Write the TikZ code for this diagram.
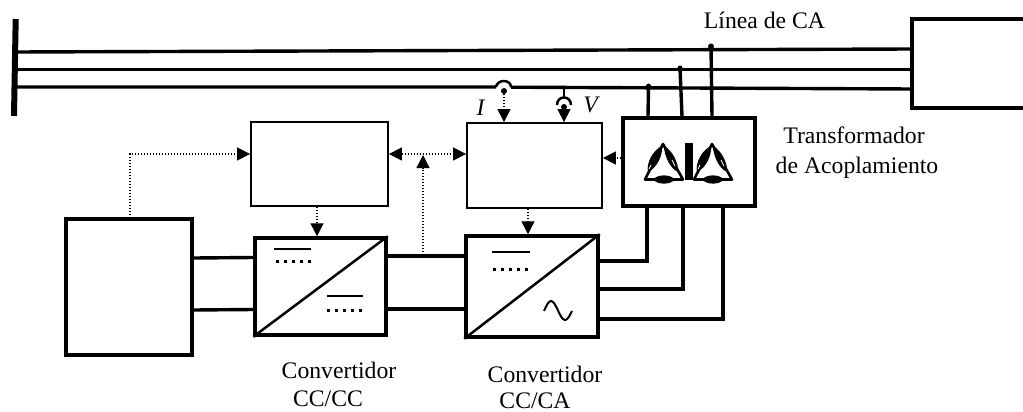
\documentclass[tikz,border=0pt]{standalone}
\usepackage{fontspec}
\setmainfont{Liberation Serif}
\usetikzlibrary{arrows.meta}
\begin{document}
\begin{tikzpicture}[x=1pt,y=-1pt,
  thinbox/.style={draw,line width=1.8pt,minimum width=#1,inner sep=0pt},
  thickbox/.style={draw,line width=3.5pt,minimum width=#1,inner sep=0pt},
  wire/.style={line width=3.4pt},
  signal/.style={line width=1.3pt,dash pattern=on 1.3pt off 1.7pt,-{Triangle[length=13pt,width=13pt]}},
  signalboth/.style={line width=1.3pt,dash pattern=on 1.3pt off 1.7pt,{Triangle[length=13pt,width=13pt]}-{Triangle[length=13pt,width=13pt]}},
  lbl/.style={anchor=base,inner sep=0pt,font=\fontsize{23.7}{28}\selectfont},
  bardash/.style={line width=3pt,dash pattern=on 3pt off 5pt}]
\useasboundingbox (0,0) rectangle (1023,412);
\def\LENSA{(-1,146) .. controls (0,155) and (-6,168) .. (-15,172) .. controls (-17,163) and (-10,150) .. (-1,146) -- cycle};
% AC line
\draw[line width=6pt] (15.7,19)--(14,116);
\coordinate (busA) at (15,52); \coordinate (busB) at (15,69.7); \coordinate (busC) at (15,87);
\coordinate (loadA) at (912,49); \coordinate (loadB) at (912,69.7); \coordinate (loadC) at (912,89);
\draw[wire] (busA)--(loadA);
\draw[wire] (busB)--(loadB);
\coordinate (gapL) at (496,87); \coordinate (gapR) at (511,87.2);
\draw[wire] (busC)--(gapL) (gapR)--(loadC);
\draw[line width=4pt] (1023,19)--(912,19)--(912,108)--(1023,108);
\node[lbl] (lblLine) at (764.5,29) {L\'{\i}nea de CA};
% blocks
\node[thinbox=137pt,minimum height=84pt] (ctrlA) at (319.5,164) {};
\node[thinbox=135pt,minimum height=85pt] (ctrlB) at (534.5,165.5) {};
\node[thickbox=132pt,minimum height=88pt] (xfmr) at (689,162) {};
\node[thickbox=126pt,minimum height=136pt] (source) at (129,287) {};
\node[thickbox=131pt,minimum height=97pt] (convA) at (320.5,286.5) {};
\node[thickbox=132pt,minimum height=101pt] (convB) at (532,286.5) {};
\draw[line width=2.5pt] (convA.south west)--(convA.north east);
\draw[line width=2.5pt] (convB.south west)--(convB.north east);
% converter symbols
\draw[line width=2pt] (274,249)--(311,249) (327,296)--(363,296) (492,252)--(530,252);
\draw[bardash] (276,261)--(311,261);
\draw[bardash] (327,310)--(362,310);
\draw[bardash] (493,269)--(528,269);
\draw[line width=2pt] (544,311) sin (551,301) cos (558,310.5) sin (565,320) cos (572,311);
% transformer symbol
\foreach \tx in {663,712}{
  \draw[line width=2.6pt,line join=round] (\tx,144)--(\tx-18,179.5)--(\tx+20,179.5)--cycle;
  \begin{scope}[shift={(\tx,0)}]
    \fill \LENSA;
    \fill[xscale=-1] (-1,146) .. controls (-1,154) and (-6,168) .. (-15,172) .. controls (-16,163) and (-9,150) .. (-1,146) -- cycle;
    \fill (-10,179.5) .. controls (-5,174) and (7,174) .. (12,179.5) .. controls (7,185) and (-5,185) .. (-10,179.5) -- cycle;
    \draw[white,line width=0.8pt] (-14,169)--(-12,165) (9,160)--(12,166);
  \end{scope}
}
\fill (685,143) rectangle (693,180);
% measurement
\coordinate (sensI) at (504,91); \coordinate (sensV) at (564,107); \coordinate (tapV) at (564,86);
\draw[line width=2.5pt] (gapL) .. controls (497,79) and (511,79) .. (gapR);
\draw[line width=2.5pt] (557,105) .. controls (557,95) and (571,95) .. (571,105);
\draw[line width=2pt] (tapV)--(564,98);
\fill (sensI) circle (3); \fill (sensV) circle (3);
\draw[signal] (sensI)--(sensI|-ctrlB.north);
\draw[signal] (sensV)--(sensV|-ctrlB.north);
\node[lbl,font=\fontsize{23.7}{28}\selectfont\itshape] (lblI) at (480.5,115) {I};
\node[lbl,font=\fontsize{23.7}{28}\selectfont\itshape] (lblV) at (590.5,113) {V};
% taps of the transformer
\coordinate (tapA) at (711,46.5); \coordinate (tapB) at (680,68); \coordinate (tapC) at (648.5,86);
\fill (tapA) circle (3); \fill (tapB) circle (2.5); \fill (tapC) circle (2.5);
\draw[wire] (tapC)--([xshift=-41pt]xfmr.north);
\draw[wire] (tapB)--([xshift=-7pt]xfmr.north);
\draw[wire] (tapA)--([xshift=23pt]xfmr.north);
% signals
\coordinate (tapSrc) at (130,215); \coordinate (tapDC) at (423,255);
\draw[signal] (tapSrc)|-(ctrlA.west|-0,154);
\draw[signalboth] (ctrlA.east|-0,154)--(ctrlB.west|-0,154);
\draw[signal] (tapDC)--(423,155);
\draw[signal] (xfmr.west|-0,158)--(ctrlB.east|-0,158);
\draw[signal] ([xshift=-2.5pt]ctrlA.south)--([xshift=-3.5pt]convA.north);
\draw[signal] ([xshift=-6.5pt]ctrlB.south)--([xshift=-4pt]convB.north);
% power
\draw[wire] ([yshift=29pt]source.east)--([yshift=29pt]convA.west);
\draw[wire] ([yshift=-23pt]source.east)--([yshift=-23pt]convA.west);
\draw[wire] ([yshift=30.5pt]convA.east)--([yshift=30.5pt]convB.west);
\draw[wire] ([yshift=-22.5pt]convA.east)--([yshift=-22.5pt]convB.west);
\draw[wire] ([yshift=25.5pt]convB.east)-|([xshift=-42pt]xfmr.south);
\draw[wire] ([yshift=-2.5pt]convB.east)-|([xshift=-6pt]xfmr.south);
\draw[wire] ([yshift=-32.5pt]convB.east)-|([xshift=34pt]xfmr.south);
% labels
\node[lbl] (lblXa) at (854,143) {Transformador};
\node[lbl] (lblXb) at (857,173) {de Acoplamiento};
\node[lbl] (lblAa) at (339,378) {Convertidor};
\node[lbl] (lblAb) at (328,406) {CC/CC};
\node[lbl] (lblBa) at (545,382) {Convertidor};
\node[lbl] (lblBb) at (535,408) {CC/CA};
\end{tikzpicture}
\end{document}
